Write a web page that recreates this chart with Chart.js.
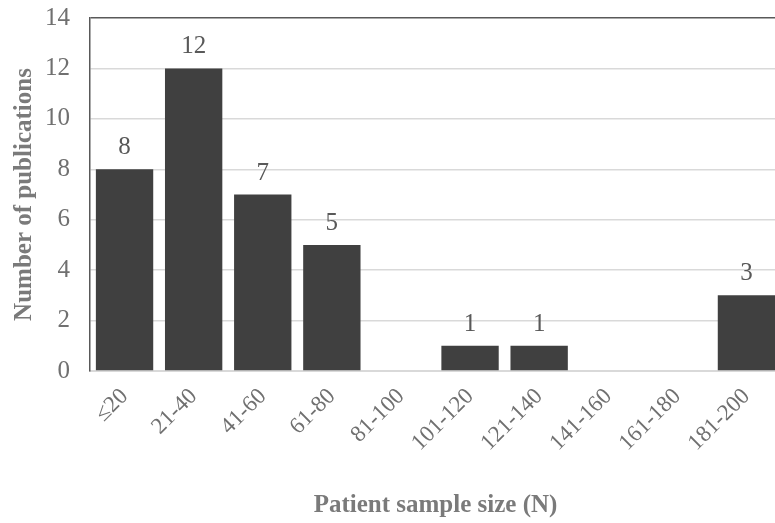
<!DOCTYPE html>
<html>
<head>
<meta charset="utf-8">
<script src="https://cdn.jsdelivr.net/npm/chart.js@4"></script>
<style>
  html, body { margin: 0; padding: 0; background: #fff; overflow: hidden; }
  #wrap { width: 781px; height: 540px; margin-top: -17px; }
</style>
</head>
<body>
<div id="wrap"><canvas id="chart" width="781" height="540"></canvas></div>
<script>
const categories = ['≤20', '21-40', '41-60', '61-80', '81-100', '101-120', '121-140', '141-160', '161-180', '181-200'];
const publications = [8, 12, 7, 5, 0, 1, 1, 0, 0, 3];
const yTicks = [0, 2, 4, 6, 8, 10, 12, 14];

const serif = "'Liberation Serif', 'Times New Roman', serif";
const textGray = '#707070';

// etiquetas encima de cada barra
const barLabels = {
  id: 'barLabels',
  afterDatasetsDraw(chart) {
    const ctx = chart.ctx;
    const meta = chart.getDatasetMeta(0);
    ctx.save();
    ctx.font = '25px ' + serif;
    ctx.fillStyle = '#595959';
    ctx.textAlign = 'center';
    ctx.textBaseline = 'bottom';
    meta.data.forEach((bar, i) => {
      const v = publications[i];
      if (!v) return;
      ctx.fillText(String(v), bar.x, bar.y - 9);
    });
    ctx.restore();
  }
};

new Chart(document.getElementById('chart').getContext('2d'), {
  type: 'bar',
  data: {
    labels: categories,
    datasets: [{
      data: publications,
      backgroundColor: '#404040',
      borderWidth: 0,
      barPercentage: 0.83,
      categoryPercentage: 1
    }]
  },
  options: {
    responsive: false,
    animation: false,
    layout: { padding: { top: 3, right: 0, left: 0, bottom: 0 } },
    plugins: {
      legend: { display: false },
      tooltip: { enabled: false }
    },
    scales: {
      x: {
        grid: { display: false },
        border: { color: '#d9d9d9', width: 2 },
        ticks: {
          color: textGray,
          font: { family: serif, size: 23 },
          minRotation: 45,
          maxRotation: 45,
          padding: 4
        },
        title: {
          display: true,
          text: 'Patient sample size (N)',
          color: '#7a7a7a',
          font: { family: serif, size: 25, weight: 'bold' },
          padding: { top: 0, bottom: 2 }
        },
        afterFit(scale) { scale.height = 152; }
      },
      y: {
        min: 0,
        max: 14,
        afterBuildTicks(scale) { scale.ticks = yTicks.map(v => ({ value: v })); },
        grid: {
          color: c => (c.tick && c.tick.value === 14 ? '#595959' : '#d9d9d9'),
          lineWidth: 1.5,
          drawTicks: false
        },
        border: { color: '#595959', width: 1.5 },
        ticks: {
          color: textGray,
          font: { family: serif, size: 25 },
          padding: 20
        },
        title: {
          display: true,
          text: 'Number of publications',
          color: '#7a7a7a',
          font: { family: serif, size: 25, weight: 'bold' },
          padding: { top: 10, bottom: 0 }
        },
        afterFit(scale) { scale.width = 90; }
      }
    }
  },
  plugins: [barLabels]
});
</script>
</body>
</html>
